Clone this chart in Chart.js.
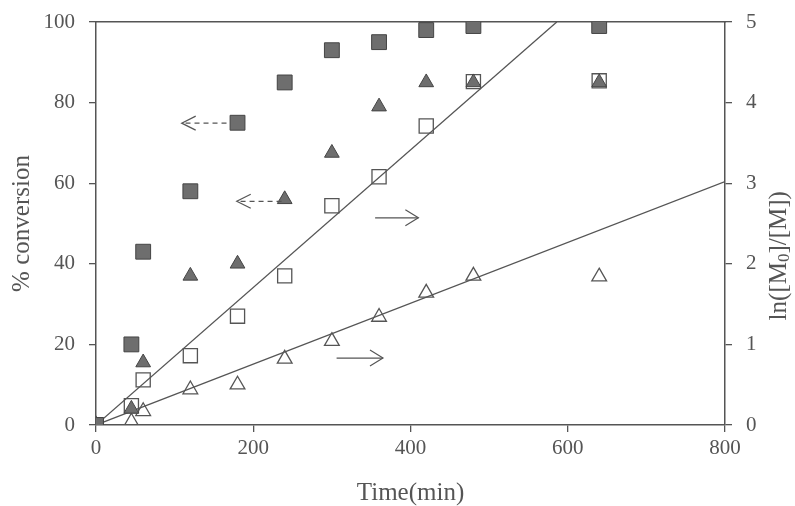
<!DOCTYPE html>
<html>
<head>
<meta charset="utf-8">
<script src="https://cdn.jsdelivr.net/npm/chart.js@4/dist/chart.umd.min.js"></script>
<style>
  html, body { margin: 0; padding: 0; background: #fff; }
  #wrap { width: 795px; height: 506px; }
</style>
</head>
<body>
<div id="wrap"><canvas id="grafico" width="795" height="506"></canvas></div>
<script>
// sampling times (min)
const tiempos = [0, 45, 60, 120, 180, 240, 300, 360, 420, 480, 640];

// % conversion (left axis)
const convCuadrado = [0, 20, 43, 58, 75, 85, 93, 95, 98, 99, 99];
const convTriangulo = [0, 4, 15.5, 37, 40, 56, 67.5, 79, 85, 85, 85];

// ln([M0]/[M]) (right axis)
const lnCuadrado = [0, 0.24, 0.56, 0.86, 1.35, 1.85, 2.72, 3.08, 3.71, 4.26, 4.27];
const lnTriangulo = [0, 0.04, 0.17, 0.44, 0.5, 0.82, 1.04, 1.34, 1.64, 1.85, 1.84];

// linear fits of ln([M0]/[M]) vs time
const ajusteA_x = [0, 586];
const ajusteA_y = [0, 5];
const ajusteB_x = [0, 800];
const ajusteB_y = [0, 3.02];

// axis ticks
const ticksX = [0, 200, 400, 600, 800];
const ticksY = [0, 20, 40, 60, 80, 100];
const ticksY2 = [0, 1, 2, 3, 4, 5];

// guide arrows: [x inicio, x fin, valor]
const flechasIzq = [[166, 109, 74.9], [236, 179, 55.5]];   // dashed, to % axis
const flechasDer = [[355, 410, 2.57], [306, 365, 0.83]];   // solid, to ln axis

const gris = '#555555';
const fuente = 'Liberation Serif, Times New Roman, serif';

function puntos(xs, ys) {
    return xs.map((x, i) => ({ x: x, y: ys[i] }));
}

const flechasPlugin = {
    id: 'flechas',
    afterDatasetsDraw(chart) {
        const ctx = chart.ctx;
        const sx = chart.scales.x, sy = chart.scales.y, sy2 = chart.scales.y2;
        ctx.save();
        ctx.strokeStyle = gris;
        ctx.lineWidth = 1.2;
        // dashed arrows pointing left
        flechasIzq.forEach(f => {
            let x0 = sx.getPixelForValue(f[0]);
            let x1 = sx.getPixelForValue(f[1]);
            let y = sy.getPixelForValue(f[2]);
            ctx.setLineDash([5, 4]);
            ctx.beginPath();
            ctx.moveTo(x0, y);
            ctx.lineTo(x1 + 2, y);
            ctx.stroke();
            ctx.setLineDash([]);
            ctx.beginPath();
            ctx.moveTo(x1 + 14, y - 7);
            ctx.lineTo(x1, y);
            ctx.lineTo(x1 + 14, y + 7);
            ctx.stroke();
        });
        // solid arrows pointing right
        flechasDer.forEach(f => {
            let x0 = sx.getPixelForValue(f[0]);
            let x1 = sx.getPixelForValue(f[1]);
            let y = sy2.getPixelForValue(f[2]);
            ctx.beginPath();
            ctx.moveTo(x0, y);
            ctx.lineTo(x1, y);
            ctx.stroke();
            ctx.beginPath();
            ctx.moveTo(x1 - 13, y - 8);
            ctx.lineTo(x1, y);
            ctx.lineTo(x1 - 13, y + 8);
            ctx.stroke();
        });
        // right axis title, read bottom-to-top, with subscript
        ctx.fillStyle = gris;
        ctx.translate(779, sy2.getPixelForValue(2.1));
        ctx.rotate(-Math.PI / 2);
        ctx.textBaseline = 'middle';
        let partes = [['ln([M', 25, 0], ['0', 17, 6], [']/[M])', 25, 0]];
        let total = 0;
        partes.forEach(p => { ctx.font = p[1] + 'px ' + fuente; total += ctx.measureText(p[0]).width; });
        let x = -total / 2;
        partes.forEach(p => {
            ctx.font = p[1] + 'px ' + fuente;
            ctx.textAlign = 'left';
            ctx.fillText(p[0], x, p[2]);
            x += ctx.measureText(p[0]).width;
        });
        ctx.restore();
    }
};

let ctx = document.getElementById('grafico').getContext('2d');
new Chart(ctx, {
    type: 'scatter',
    data: {
        datasets: [
            {
                label: 'conv A',
                data: puntos(tiempos, convCuadrado),
                yAxisID: 'y',
                pointStyle: 'rect',
                pointRadius: 10.5,
                backgroundColor: '#6e6e6e',
                borderColor: '#444',
                borderWidth: 1
            },
            {
                label: 'conv B',
                data: puntos(tiempos, convTriangulo),
                yAxisID: 'y',
                pointStyle: 'triangle',
                pointRadius: 8.5,
                backgroundColor: '#6e6e6e',
                borderColor: '#444',
                borderWidth: 1
            },
            {
                label: 'ln A',
                data: puntos(tiempos, lnCuadrado),
                yAxisID: 'y2',
                pointStyle: 'rect',
                pointRadius: 10,
                backgroundColor: 'rgba(0,0,0,0)',
                borderColor: gris,
                borderWidth: 1.3
            },
            {
                label: 'ln B',
                data: puntos(tiempos, lnTriangulo),
                yAxisID: 'y2',
                pointStyle: 'triangle',
                pointRadius: 8.5,
                backgroundColor: 'rgba(0,0,0,0)',
                borderColor: gris,
                borderWidth: 1.3
            },
            {
                label: 'fit A',
                data: puntos(ajusteA_x, ajusteA_y),
                yAxisID: 'y2',
                showLine: true,
                pointRadius: 0,
                borderColor: gris,
                borderWidth: 1.3
            },
            {
                label: 'fit B',
                data: puntos(ajusteB_x, ajusteB_y),
                yAxisID: 'y2',
                showLine: true,
                pointRadius: 0,
                borderColor: gris,
                borderWidth: 1.3
            }
        ]
    },
    options: {
        responsive: false,
        animation: false,
        events: [],
        layout: { padding: { top: 22, left: 0, right: 0, bottom: 0 } },
        plugins: { legend: { display: false }, tooltip: { enabled: false } },
        scales: {
            x: {
                type: 'linear',
                position: 'bottom',
                min: 0, max: 800,
                afterBuildTicks: s => { s.ticks = ticksX.map(v => ({ value: v })); },
                afterFit: s => { s.height = 81; },
                ticks: { color: gris, padding: 4, font: { family: fuente, size: 21 } },
                grid: { drawOnChartArea: false, drawTicks: true, tickLength: 7, color: gris, lineWidth: 1.3 },
                border: { display: true, color: gris, width: 1.5 },
                title: {
                    display: true, text: 'Time(min)', color: gris,
                    font: { family: fuente, size: 25, lineHeight: 1 },
                    padding: { top: 0, bottom: 0.5 }
                }
            },
            xTop: {
                type: 'linear',
                position: 'top',
                min: 0, max: 800,
                afterFit: s => { s.height = 0; },
                ticks: { display: false },
                grid: { drawOnChartArea: false, drawTicks: false },
                border: { display: true, color: gris, width: 1.5 }
            },
            y: {
                type: 'linear',
                position: 'left',
                min: 0, max: 100,
                afterBuildTicks: s => { s.ticks = ticksY.map(v => ({ value: v })); },
                afterFit: s => { s.width = 96; },
                ticks: { color: gris, padding: 14, font: { family: fuente, size: 21, lineHeight: 0.7 } },
                grid: { drawOnChartArea: false, drawTicks: true, tickLength: 7, color: gris, lineWidth: 1.3 },
                border: { display: true, color: gris, width: 1.5 },
                title: {
                    display: true, text: '% conversion', color: gris,
                    font: { family: fuente, size: 25, lineHeight: 1 },
                    padding: { top: 9.5, bottom: 0 }
                }
            },
            y2: {
                type: 'linear',
                position: 'right',
                min: 0, max: 5,
                afterBuildTicks: s => { s.ticks = ticksY2.map(v => ({ value: v })); },
                afterFit: s => { s.width = 70; },
                ticks: { color: gris, padding: 14, font: { family: fuente, size: 21, lineHeight: 0.7 } },
                grid: { drawOnChartArea: false, drawTicks: true, tickLength: 7, color: gris, lineWidth: 1.3 },
                border: { display: true, color: gris, width: 1.5 },
                title: { display: false }
            }
        }
    },
    plugins: [flechasPlugin]
});
</script>
</body>
</html>
